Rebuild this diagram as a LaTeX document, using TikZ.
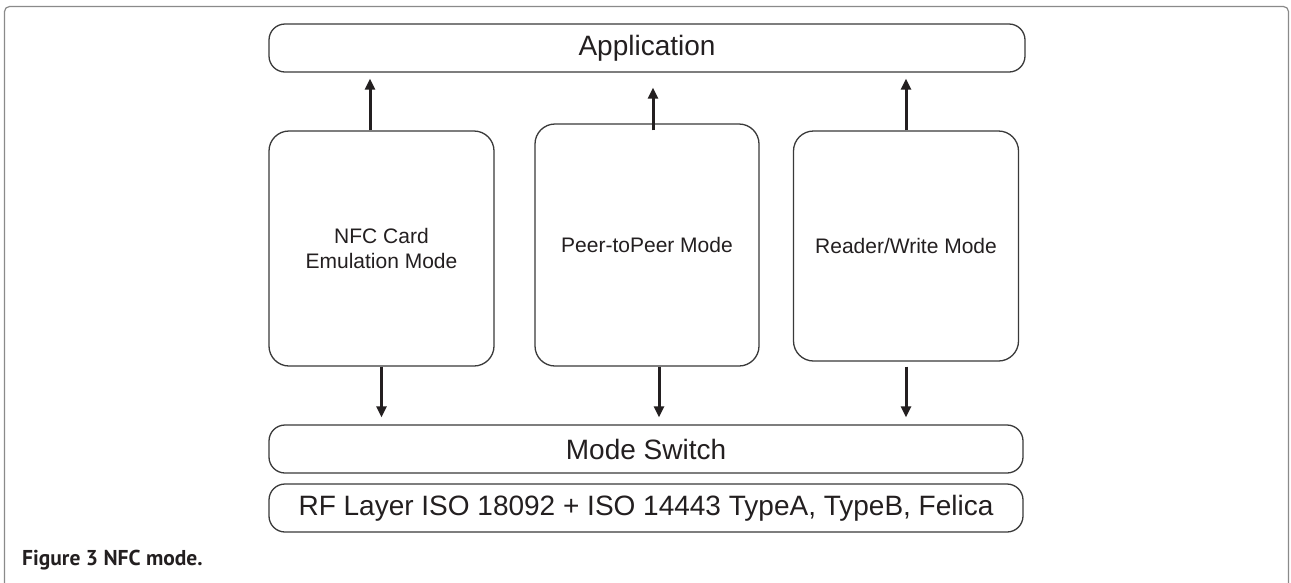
\documentclass[tikz,border=0pt]{standalone}
\usepackage{fontspec}
\setmainfont{Liberation Sans}
\newfontfamily\capfont{PT Sans}
\usetikzlibrary{arrows.meta}
\definecolor{ink}{HTML}{231F20}
\definecolor{boxline}{HTML}{3A3A3A}
\definecolor{frameline}{HTML}{8A8A8A}
\begin{document}
\begin{tikzpicture}[x=1pt,y=-1pt,
  bar/.style={draw=boxline, line width=1.3pt, rounded corners=16pt, minimum height=48pt,
    inner sep=0pt, font=\fontsize{28}{32}\selectfont, text=ink},
  modebox/.style={draw=boxline, line width=1.3pt, rounded corners=20pt, inner sep=0pt,
    font=\fontsize{21}{25.5}\selectfont, align=center, text=ink},
  flow/.style={draw=ink, line width=3pt, -{Triangle[width=10pt,length=11pt]}}]
\clip (0,0) rectangle (1291,582);
\fill[white] (0,0) rectangle (1291,582);
% outer frame
\draw[frameline, line width=1.2pt, rounded corners=5pt] (4.5,6.5) rectangle (1288.5,640);
% layer bars
\node[bar, minimum width=756pt] (app) at (647,48) {Application};
\node[bar, minimum width=754pt] (sw) at (646,449) {Mode Switch};
\node[bar, minimum width=754pt] (rf) at (646,508) {RF Layer ISO 18092 + ISO 14443 TypeA, TypeB, Felica};
% mode boxes
\node[modebox, minimum width=225pt, minimum height=235pt] (b1) at (381.5,248.5) {NFC Card\\Emulation Mode};
\node[modebox, minimum width=224pt, minimum height=242pt] (b2) at (647,245) {Peer-toPeer Mode};
\node[modebox, minimum width=225pt, minimum height=230pt] (b3) at (906,246) {Reader/Write Mode};
% helper coordinates
\coordinate (appgap) at ([yshift=-6pt]app.south);
\coordinate (appgap2) at ([yshift=-15pt]app.south);
\coordinate (swgap) at ([yshift=7pt]sw.north);
% arrows up
\draw[flow] ([xshift=-11.5pt]b1.north) -- ([xshift=-11.5pt]b1.north |- appgap);
\draw[flow] ([xshift=6pt,yshift=-7pt]b2.north) -- ([xshift=6pt]b2.north |- appgap2);
\draw[flow] (b3.north) -- (b3.north |- appgap);
% arrows down
\draw[flow] (b1.south) -- (b1.south |- swgap);
\draw[flow] ([xshift=12pt]b2.south) -- ([xshift=12pt]b2.south |- swgap);
\draw[flow] ([yshift=-5pt]b3.south) -- (b3.south |- swgap);
% caption
\node[anchor=base west, inner sep=0pt, text=ink, font=\capfont\bfseries\fontsize{21.5}{25}\selectfont] (cap) at (22,565) {Figure 3 NFC mode.};
\end{tikzpicture}
\end{document}
